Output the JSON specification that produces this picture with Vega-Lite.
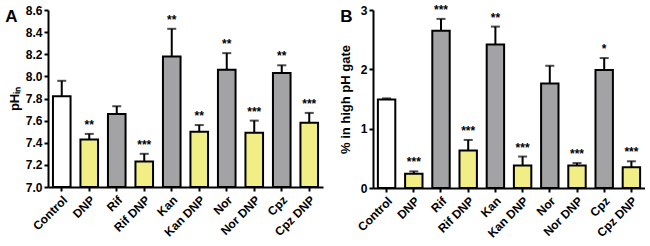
{
  "$schema": "https://vega.github.io/schema/vega-lite/v6.json",
  "padding": {"left": 5, "top": 3, "right": 0, "bottom": 0},
  "background": "white",
  "config": {
    "font": "Liberation Sans",
    "view": {"stroke": null},
    "concat": {"spacing": 16},
    "axis": {
      "domainColor": "black", "domainWidth": 2, "tickColor": "black", "tickWidth": 2, "tickSize": 4,
      "labelColor": "black", "labelFont": "Liberation Sans", "labelFontWeight": "bold", "labelFontSize": 12,
      "labelOverlap": false,
      "titleFont": "Liberation Sans", "titleFontWeight": "bold", "titleFontSize": 13, "titleColor": "black", "grid": false
    },
    "title": {"font": "Liberation Sans", "fontSize": 17, "fontWeight": "bold", "color": "black", "anchor": "start", "frame": "bounds"}
  },
  "datasets": {
    "d": [
      {"cond": "Control", "grp": "c", "ph": 7.82, "phTop": 7.96, "phStar": "", "pct": 1.49, "pctTop": 1.51, "pctStar": ""},
      {"cond": "DNP", "grp": "d", "ph": 7.43, "phTop": 7.48, "phStar": "**", "pct": 0.24, "pctTop": 0.28, "pctStar": "***"},
      {"cond": "Rif", "grp": "a", "ph": 7.66, "phTop": 7.73, "phStar": "", "pct": 2.65, "pctTop": 2.85, "pctStar": "***"},
      {"cond": "Rif DNP", "grp": "d", "ph": 7.23, "phTop": 7.30, "phStar": "***", "pct": 0.63, "pctTop": 0.81, "pctStar": "***"},
      {"cond": "Kan", "grp": "a", "ph": 8.18, "phTop": 8.43, "phStar": "**", "pct": 2.42, "pctTop": 2.72, "pctStar": "**"},
      {"cond": "Kan DNP", "grp": "d", "ph": 7.50, "phTop": 7.56, "phStar": "**", "pct": 0.38, "pctTop": 0.53, "pctStar": "***"},
      {"cond": "Nor", "grp": "a", "ph": 8.06, "phTop": 8.21, "phStar": "**", "pct": 1.76, "pctTop": 2.06, "pctStar": ""},
      {"cond": "Nor DNP", "grp": "d", "ph": 7.49, "phTop": 7.60, "phStar": "***", "pct": 0.38, "pctTop": 0.42, "pctStar": "***"},
      {"cond": "Cpz", "grp": "a", "ph": 8.03, "phTop": 8.10, "phStar": "**", "pct": 1.99, "pctTop": 2.19, "pctStar": "*"},
      {"cond": "Cpz DNP", "grp": "d", "ph": 7.58, "phTop": 7.67, "phStar": "***", "pct": 0.35, "pctTop": 0.45, "pctStar": "***"}
    ]
  },
  "hconcat": [
    {
      "title": {"text": "A", "offset": -22, "dx": -3},
      "width": 275, "height": 177,
      "data": {"name": "d"},
      "encoding": {
        "x": {"field": "cond", "type": "nominal", "sort": null, "title": null,
              "scale": {"paddingInner": 0.36, "paddingOuter": 0.18},
              "axis": {"labelAngle": -45, "labelAlign": "right", "labelBaseline": "top", "labelPadding": 3}}
      },
      "layer": [
        {"mark": {"type": "rule", "color": "black", "strokeWidth": 2},
         "encoding": {"y": {"field": "ph", "type": "quantitative", "title": "pHᵢₙ",
                 "scale": {"domain": [7.0, 8.6], "zero": false, "nice": false},
                 "axis": {"values": [7.0, 7.2, 7.4, 7.6, 7.8, 8.0, 8.2, 8.4, 8.6], "tickCount": 9, "format": ".1f", "titlePadding": 4, "labelOverlap": false}},
                      "y2": {"field": "phTop"}}},
        {"mark": {"type": "tick", "color": "black", "thickness": 2, "size": 9},
         "encoding": {"y": {"field": "phTop", "type": "quantitative", "title": "pHᵢₙ",
                 "axis": {"values": [7.0, 7.2, 7.4, 7.6, 7.8, 8.0, 8.2, 8.4, 8.6], "tickCount": 9, "format": ".1f", "titlePadding": 4, "labelOverlap": false}}}},
        {"mark": {"type": "bar", "stroke": "black", "strokeWidth": 2},
         "encoding": {
           "y": {"field": "ph", "type": "quantitative", "title": "pHᵢₙ",
                 "axis": {"values": [7.0, 7.2, 7.4, 7.6, 7.8, 8.0, 8.2, 8.4, 8.6], "tickCount": 9, "format": ".1f", "titlePadding": 4, "labelOverlap": false}},
           "y2": {"datum": 7.0},
           "color": {"field": "grp", "type": "nominal", "legend": null,
                     "scale": {"domain": ["c", "d", "a"], "range": ["#ffffff", "#f0ee84", "#a3a3a6"]}}
         }},
        {"mark": {"type": "text", "baseline": "bottom", "dy": -2, "fontSize": 12, "fontWeight": "bold", "color": "black"},
         "encoding": {"y": {"field": "phTop", "type": "quantitative", "title": "pHᵢₙ",
                 "axis": {"values": [7.0, 7.2, 7.4, 7.6, 7.8, 8.0, 8.2, 8.4, 8.6], "tickCount": 9, "format": ".1f", "titlePadding": 4, "labelOverlap": false}},
                      "text": {"field": "phStar"}}}
      ]
    },
    {
      "title": {"text": "B", "offset": -22, "dx": 1},
      "width": 272, "height": 178,
      "data": {"name": "d"},
      "encoding": {
        "x": {"field": "cond", "type": "nominal", "sort": null, "title": null,
              "scale": {"paddingInner": 0.36, "paddingOuter": 0.18},
              "axis": {"labelAngle": -45, "labelAlign": "right", "labelBaseline": "top", "labelPadding": 3}}
      },
      "layer": [
        {"mark": {"type": "rule", "color": "black", "strokeWidth": 2},
         "encoding": {"y": {"field": "pct", "type": "quantitative", "title": "% in high pH gate",
                 "scale": {"domain": [0, 3], "nice": false},
                 "axis": {"values": [0, 1, 2, 3], "format": "d", "titlePadding": 8}},
                      "y2": {"field": "pctTop"}}},
        {"mark": {"type": "tick", "color": "black", "thickness": 2, "size": 9},
         "encoding": {"y": {"field": "pctTop", "type": "quantitative", "title": "% in high pH gate",
                 "axis": {"values": [0, 1, 2, 3], "format": "d", "titlePadding": 8}}}},
        {"mark": {"type": "bar", "stroke": "black", "strokeWidth": 2},
         "encoding": {
           "y": {"field": "pct", "type": "quantitative", "title": "% in high pH gate",
                 "axis": {"values": [0, 1, 2, 3], "format": "d", "titlePadding": 8}},
           "color": {"field": "grp", "type": "nominal", "legend": null,
                     "scale": {"domain": ["c", "d", "a"], "range": ["#ffffff", "#f0ee84", "#a3a3a6"]}}
         }},
        {"mark": {"type": "text", "baseline": "bottom", "dy": -2, "fontSize": 12, "fontWeight": "bold", "color": "black"},
         "encoding": {"y": {"field": "pctTop", "type": "quantitative", "title": "% in high pH gate",
                 "axis": {"values": [0, 1, 2, 3], "format": "d", "titlePadding": 8}},
                      "text": {"field": "pctStar"}}}
      ]
    }
  ],
  "resolve": {"scale": {"color": "independent"}}
}
